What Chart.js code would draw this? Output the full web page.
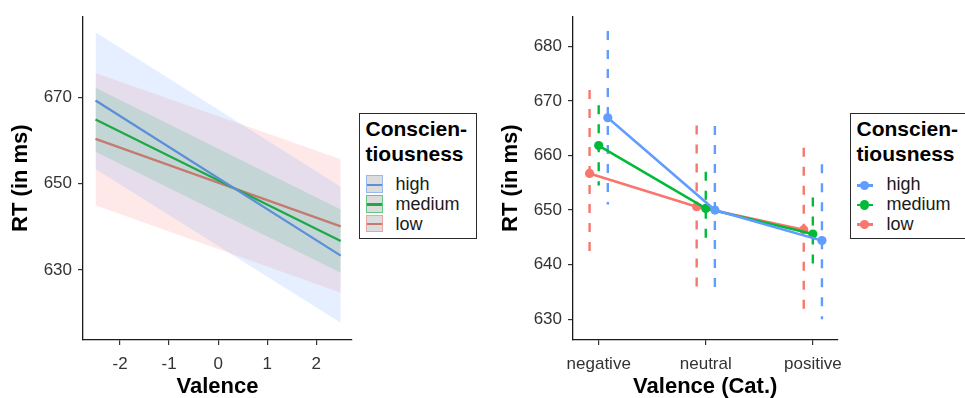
<!DOCTYPE html>
<html>
<head>
<meta charset="utf-8">
<script src="https://cdn.jsdelivr.net/npm/chart.js@4.4.1/dist/chart.umd.min.js"></script>
<style>
  body { margin: 0; width: 965px; height: 398px; overflow: hidden; background: #fff; position: relative;
         font-family: "Liberation Sans", Arial, sans-serif; }
  canvas { position: absolute; top: 0; }
  .legend { position: absolute; top: 112.7px; height: 124.3px; border: 1.5px solid #2b2b2b; background: #fff; }
  .ltitle { position: absolute; top: 2.7px; left: 5.5px; font-size: 21px; font-weight: bold; line-height: 25px; color: #000; white-space: nowrap; }
  .ltext { position: absolute; left: 35.5px; font-size: 18px; line-height: 19.7px; color: #1a1a1a; white-space: nowrap; }
  .lkey { position: absolute; }
</style>
</head>
<body>
<canvas id="leftChart" width="360" height="398" style="left:0"></canvas>
<canvas id="rightChart" width="370" height="398" style="left:482px"></canvas>
<div id="legLeft" class="legend" style="left:359px; width:116px"></div>
<div id="legRight" class="legend" style="left:850px; width:140px"></div>
<script>
// left panel: fitted lines with confidence bands (valence as continuous)
const valence = [-2.5, 2.5];
const highFit = [669.3, 633.3];
const highLow = [653.4, 617.7];
const highHigh = [685.2, 649.3];
const mediumFit = [664.9, 636.7];
const mediumLow = [657.4, 629.3];
const mediumHigh = [672.3, 644.0];
const lowFit = [660.4, 640.1];
const lowLow = [645.0, 624.7];
const lowHigh = [675.7, 655.7];
const leftTicksX = [-2, -1, 0, 1, 2];
const leftTicksY = [630, 650, 670];

// right panel: estimated means with intervals (valence categories)
const categories = ["negative", "neutral", "positive"];
const highMean = [666.9, 650.0, 644.4];
const highLower = [651.0, 635.4, 630.0];
const highUpper = [682.8, 665.4, 658.4];
const mediumMean = [661.8, 650.3, 645.6];
const mediumLower = [654.5, 644.6, 640.0];
const mediumUpper = [669.2, 657.0, 652.3];
const lowMean = [656.7, 650.6, 646.4];
const lowLower = [642.1, 635.9, 631.6];
const lowUpper = [672.0, 665.5, 661.4];
const rightTicksY = [630, 640, 650, 660, 670, 680];

const legendTitle = ["Conscien-", "tiousness"];
const groupNames = ["high", "medium", "low"];

Chart.defaults.font.family = '"Liberation Sans", Arial, sans-serif';

function pts(xs, ys) {
  return xs.map(function (x, i) { return { x: x, y: ys[i] }; });
}

function axis(min, max, ticks, size, title, titlePad, horizontal, labelFn) {
  return {
    type: "linear", min: min, max: max,
    afterBuildTicks: function (s) { s.ticks = ticks.map(function (v) { return { value: v }; }); },
    afterFit: function (s) { if (horizontal) s.height = size; else s.width = size; },
    grid: { drawOnChartArea: false, drawTicks: true, tickLength: 5, color: "#333", lineWidth: 1.2 },
    border: { color: "#1a1a1a", width: 1.3 },
    ticks: { font: { size: 17 }, color: "#333", padding: horizontal ? 9.5 : 6, maxRotation: 0,
             callback: labelFn || function (v) { return v; } },
    title: { display: true, text: title, color: "#000",
             font: { size: 22, weight: "bold", lineHeight: 1.0 }, padding: titlePad }
  };
}

// ---- left chart
const leftGroups = [
  { fit: highFit, lo: highLow, hi: highHigh, line: "#5b8fda", band: "rgba(97,156,255,0.16)" },
  { fit: mediumFit, lo: mediumLow, hi: mediumHigh, line: "#1fa847", band: "rgba(0,186,56,0.16)" },
  { fit: lowFit, lo: lowLow, hi: lowHigh, line: "#c57a70", band: "rgba(248,118,109,0.16)" }
];
const leftSets = [];
leftGroups.forEach(function (g) {
  const base = leftSets.length;
  leftSets.push({ data: pts(valence, g.lo), borderWidth: 0, pointRadius: 0, fill: false, order: 5 });
  leftSets.push({ data: pts(valence, g.hi), borderWidth: 0, pointRadius: 0, fill: base,
                  backgroundColor: g.band, order: 5 });
});
leftGroups.forEach(function (g, i) {
  leftSets.push({ data: pts(valence, g.fit), borderColor: g.line, borderWidth: 2.3,
                  pointRadius: 0, fill: false, order: i });
});

new Chart("leftChart", {
  type: "line",
  data: { datasets: leftSets },
  options: {
    responsive: false, animation: false,
    layout: { padding: { top: 13, right: 8, left: 0, bottom: 0 } },
    plugins: { legend: { display: false }, tooltip: { enabled: false } },
    scales: {
      x: axis(-2.755, 2.73, leftTicksX, 58, "Valence", { top: 0, bottom: 0 }, true),
      y: axis(613.7, 688.9, leftTicksY, 83, "RT (in ms)", { top: 10, bottom: 0 }, false)
    }
  }
});

// ---- right chart
const dodge = 0.085;
const rightGroups = [
  { mean: highMean, lower: highLower, upper: highUpper, color: "#619cff", shift: dodge },
  { mean: mediumMean, lower: mediumLower, upper: mediumUpper, color: "#00ba38", shift: 0 },
  { mean: lowMean, lower: lowLower, upper: lowUpper, color: "#f8766d", shift: -dodge }
];
const rightSets = [];
rightGroups.forEach(function (g, gi) {
  const xs = categories.map(function (c, i) { return i + g.shift; });
  rightSets.push({ data: pts(xs, g.mean), borderColor: g.color, borderWidth: 2.5,
                   pointRadius: 4.6, pointBackgroundColor: g.color, pointBorderWidth: 0,
                   fill: false, order: gi });
  xs.forEach(function (x, i) {
    rightSets.push({ data: [{ x: x, y: g.upper[i] }, { x: x, y: g.lower[i] }],
                     borderColor: g.color, borderWidth: 2.4, borderDash: [9, 10],
                     pointRadius: 0, fill: false, order: 10 });
  });
});

new Chart("rightChart", {
  type: "line",
  data: { datasets: rightSets },
  options: {
    responsive: false, animation: false,
    layout: { padding: { top: 13, right: 9, left: 0, bottom: 0 } },
    plugins: { legend: { display: false }, tooltip: { enabled: false } },
    scales: {
      x: axis(-0.24, 2.23, [0, 1, 2], 58, "Valence (Cat.)", { top: 0, bottom: 0 }, true,
              function (v) { return categories[v]; }),
      y: axis(626.2, 685.5, rightTicksY, 91, "RT (in ms)", { top: 18, bottom: 0 }, false)
    }
  }
});

// ---- legends (HTML text)
function buildLegend(id, drawKey) {
  const box = document.getElementById(id);
  const t = document.createElement("div");
  t.className = "ltitle";
  t.innerHTML = legendTitle.join("<br>");
  box.appendChild(t);
  groupNames.forEach(function (name, i) {
    const top = 61.8 + i * 19.7;
    drawKey(box, i, top);
    const txt = document.createElement("div");
    txt.className = "ltext";
    txt.style.top = top + "px";
    txt.textContent = name;
    box.appendChild(txt);
  });
}
function el(box, css) {
  const d = document.createElement("div");
  d.className = "lkey";
  d.style.cssText = css;
  box.appendChild(d);
}
buildLegend("legLeft", function (box, i, top) {
  const g = leftGroups[i];
  el(box, "left:5.5px;top:" + top + "px;width:15px;height:15.5px;background:#dcdcdc;" +
          "border:1.5px solid " + g.band.replace("0.16", "0.55") + ";");
  el(box, "left:7px;top:" + (top + 8.2) + "px;width:15px;height:2.2px;background:" + g.line + ";");
});
buildLegend("legRight", function (box, i, top) {
  const g = rightGroups[i];
  el(box, "left:5.5px;top:" + (top + 8.6) + "px;width:16px;height:2.5px;background:" + g.color + ";");
  el(box, "left:8.9px;top:" + (top + 5.3) + "px;width:9.2px;height:9.2px;border-radius:50%;background:" + g.color + ";");
});
</script>
</body>
</html>
